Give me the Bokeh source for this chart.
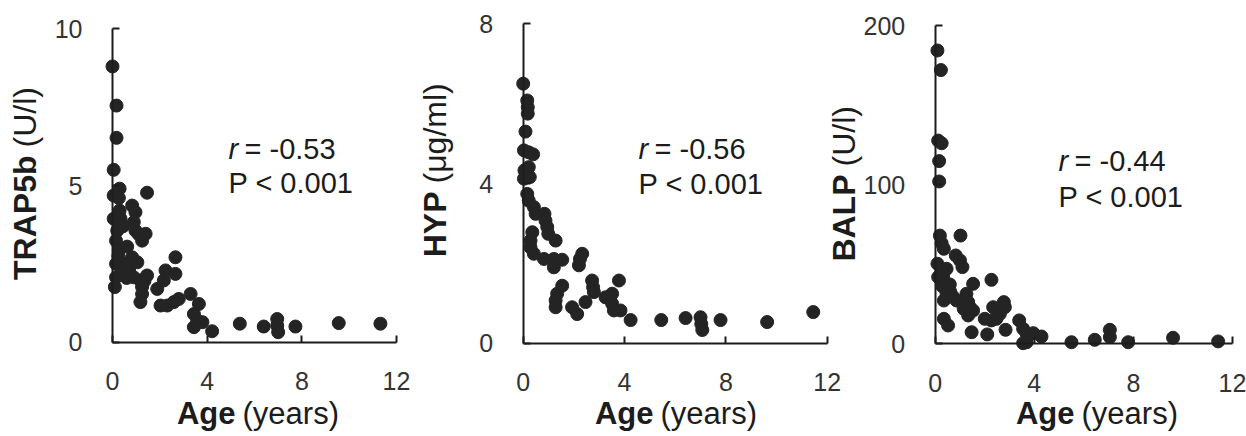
import math
from bokeh.plotting import figure
from bokeh.models import Range1d, FixedTicker, Label, LinearAxis
from bokeh.embed import file_html
from bokeh.resources import INLINE

# ---------------- data ----------------
x_ticks = [0, 4, 8, 12]

ages_trap = [0.0, 0.17, 0.17, 0.05, 0.05, 0.30, 0.27, 1.46, 0.83, 0.97,
             0.05, 0.34, 0.20, 0.90, 0.97, 1.40, 0.15, 1.25, 0.27, 0.83,
             2.66, 0.15, 0.55, 0.15, 0.48, 0.90, 1.18, 1.46, 2.24, 2.66,
             0.10, 1.25, 1.89, 2.17, 1.25, 1.18, 2.03, 2.31, 2.59, 2.80,
             3.30, 3.65, 3.44, 3.58, 3.44, 3.80, 4.21, 5.38, 6.39, 6.96,
             6.96, 7.00, 7.73, 9.56, 11.32, 0.62, 1.10, 0.40, 1.35, 0.70,
             0.30, 0.45, 0.25, 0.60, 1.05]
trap5b = [8.8, 7.55, 6.52, 5.5, 4.68, 4.9, 4.6, 4.77, 4.36, 4.15,
          3.94, 3.94, 3.56, 3.83, 3.56, 3.46, 3.24, 3.24, 2.93, 2.71,
          2.71, 2.5, 2.5, 2.07, 2.18, 2.07, 1.97, 2.13, 2.29, 2.18,
          1.76, 1.76, 1.70, 1.97, 1.54, 1.28, 1.17, 1.17, 1.28, 1.38,
          1.54, 1.22, 0.9, 0.69, 0.48, 0.64, 0.35, 0.59, 0.5, 0.74,
          0.53, 0.32, 0.5, 0.61, 0.59, 3.05, 3.45, 2.3, 1.95, 2.3,
          4.2, 3.7, 2.75, 2.05, 2.55]
trap_ticks = [0, 5, 10]

ages_hyp = [0.0, 0.16, 0.18, 0.18, 0.09, 0.03, 0.22, 0.39, 0.22, 0.05,
            0.03, 0.26, 0.16, 0.22, 0.42, 0.49, 0.84, 0.88, 0.95, 0.99,
            1.28, 0.36, 0.29, 0.29, 0.42, 0.82, 1.21, 1.54, 1.21, 2.24,
            2.33, 2.20, 2.72, 2.76, 2.79, 1.54, 1.34, 1.28, 1.28, 1.93,
            2.13, 2.46, 3.25, 3.51, 3.78, 3.51, 3.58, 3.84, 4.24, 5.45,
            6.41, 7.00, 7.03, 7.07, 7.79, 9.63, 11.45]
hyp = [6.5, 6.08, 5.91, 5.75, 5.3, 4.83, 4.78, 4.73, 4.41, 4.33,
       4.12, 4.16, 3.74, 3.57, 3.41, 3.24, 3.24, 3.07, 2.91, 2.74,
       2.57, 2.78, 2.57, 2.4, 2.24, 2.11, 2.11, 2.09, 1.9, 2.11,
       2.24, 1.95, 1.57, 1.4, 1.28, 1.44, 1.24, 1.07, 0.9, 0.9,
       0.73, 1.03, 1.15, 1.24, 1.57, 0.99, 0.82, 0.82, 0.58, 0.58,
       0.63, 0.65, 0.48, 0.33, 0.58, 0.53, 0.78]
hyp_ticks = [0, 4, 8]

ages_balp = [0.09, 0.23, 0.12, 0.26, 0.16, 0.16, 0.19, 0.26, 0.35, 1.02,
             0.83, 1.00, 1.10, 0.09, 0.46, 0.12, 0.32, 0.59, 1.53, 2.27,
             0.46, 0.35, 0.86, 1.26, 1.33, 1.40, 1.53, 1.33, 2.34, 2.77,
             2.81, 2.61, 2.00, 2.27, 2.47, 0.35, 0.52, 1.47, 2.10, 2.84,
             3.39, 3.55, 3.69, 3.96, 4.29, 3.55, 3.69, 5.50, 6.44, 7.05,
             7.05, 7.79, 9.60, 11.42, 0.60, 1.20, 0.30, 0.25, 0.70, 1.15]
balp = [184.3, 172.0, 127.7, 126.0, 114.8, 102.0, 68.0, 63.2, 59.7, 68.0,
        55.5, 52.4, 48.2, 50.3, 47.1, 41.9, 41.9, 37.3, 37.7, 40.2,
        31.4, 27.2, 27.2, 31.4, 26.2, 23.0, 20.9, 17.8, 23.0, 26.2,
        23.0, 18.8, 15.7, 14.7, 15.7, 15.7, 11.5, 7.3, 5.9, 8.8,
        14.7, 9.4, 6.3, 6.7, 4.6, 0.4, 1.0, 1.0, 2.5, 8.8,
        4.2, 1.0, 3.8, 1.5, 33.0, 28.0, 36.0, 45.0, 30.0, 22.0]
balp_ticks = [0, 100, 200]

r_values = ["-0.53", "-0.56", "-0.44"]
p_text = "P < 0.001"

# ---------------- layout / style ----------------
FONT = "Liberation Sans"
INK = "#1c1c1c"
TICK_COLOR = "#333333"
DOT = "#242424"
W, H = 1246, 436
OFF = 0  # the canvas starts at the page's top-left corner

panels = [
    dict(name="default", ages=ages_trap, vals=trap5b, ymax=10, yticks=trap_ticks,
         x0=112, x12=396, y0=341.7, ytop=28.3, ybold="TRAP5b", ynorm="(U/l)",
         ylab_x=24, ylab_split=151, xlab_split=238, r=r_values[0],
         ann_x=228, ann_y1=148, ann_y2=182),
    dict(name="p2", ages=ages_hyp, vals=hyp, ymax=8, yticks=hyp_ticks,
         x0=522.7, x12=826.7, y0=342.7, ytop=23.3, ybold="HYP", ynorm="(μg/ml)",
         ylab_x=434, ylab_split=187, xlab_split=656, r=r_values[1],
         ann_x=638, ann_y1=148, ann_y2=183),
    dict(name="p3", ages=ages_balp, vals=balp, ymax=200, yticks=balp_ticks,
         x0=934.7, x12=1232, y0=343.3, ytop=25, ybold="BALP", ynorm="(U/l)",
         ylab_x=843, ylab_split=170, xlab_split=1077, r=r_values[2],
         ann_x=1058, ann_y1=160, ann_y2=196),
]
XLAB_BASE = 413


def ranges(pn):
    ppx = (pn["x12"] - pn["x0"]) / 12.0
    ppy = (pn["y0"] - pn["ytop"]) / pn["ymax"]
    xr = Range1d((OFF - pn["x0"]) / ppx, (OFF + W - pn["x0"]) / ppx)
    yr = Range1d(-(OFF + H - pn["y0"]) / ppy, (pn["y0"] - OFF) / ppy)
    return xr, yr, ppx, ppy


info = [ranges(pn) for pn in panels]

p = figure(width=W, height=H, x_range=info[0][0], y_range=info[0][1],
           output_backend="svg", toolbar_location=None,
           x_axis_location=None, y_axis_location=None, min_border=0)
p.outline_line_color = None
p.background_fill_color = "white"
p.border_fill_color = "white"
p.grid.grid_line_color = None
p.extra_x_ranges = {pn["name"]: info[i][0] for i, pn in enumerate(panels) if i > 0}
p.extra_y_ranges = {pn["name"]: info[i][1] for i, pn in enumerate(panels) if i > 0}


def style_axis(ax, standoff):
    ax.axis_line_width = 2
    ax.axis_line_color = INK
    ax.major_tick_line_width = 2
    ax.major_tick_line_color = INK
    ax.major_tick_in = 7
    ax.major_tick_out = 0
    ax.minor_tick_line_color = None
    ax.major_label_text_font = FONT
    ax.major_label_text_font_size = "25px"
    ax.major_label_text_color = TICK_COLOR
    ax.major_label_standoff = standoff


for i, pn in enumerate(panels):
    name = pn["name"]
    xr, yr, ppx, ppy = info[i]

    def dx(px, x0=pn["x0"], ppx=ppx):
        return (px - x0) / ppx

    def dy(py, y0=pn["y0"], ppy=ppy):
        return (y0 - py) / ppy

    p.scatter(x=pn["ages"], y=pn["vals"], size=13, fill_color=DOT, line_color=DOT,
              x_range_name=name, y_range_name=name)

    xa = LinearAxis(x_range_name=name, y_range_name=name, fixed_location=0,
                    bounds=(0, 12), ticker=FixedTicker(ticks=x_ticks))
    style_axis(xa, 30)
    p.add_layout(xa, "below")

    ya = LinearAxis(x_range_name=name, y_range_name=name, fixed_location=0,
                    bounds=(0, pn["ymax"]), ticker=FixedTicker(ticks=pn["yticks"]))
    style_axis(ya, 30)
    p.add_layout(ya, "left")

    common = dict(x_range_name=name, y_range_name=name, text_font=FONT, text_color=INK)

    # x axis title: bold "Age" + normal "(years)"
    p.add_layout(Label(x=dx(pn["xlab_split"] - 3), y=dy(XLAB_BASE), text="Age",
                       text_font_size="31px", text_font_style="bold",
                       text_align="right", text_baseline="alphabetic", **common))
    p.add_layout(Label(x=dx(pn["xlab_split"] + 4), y=dy(XLAB_BASE), text="(years)",
                       text_font_size="31px", text_font_style="normal",
                       text_align="left", text_baseline="alphabetic", **common))

    # y axis title (rotated)
    p.add_layout(Label(x=dx(pn["ylab_x"]), y=dy(pn["ylab_split"] + 4), text=pn["ybold"],
                       angle=math.pi / 2, text_font_size="32px", text_font_style="bold",
                       text_align="right", text_baseline="middle", **common))
    p.add_layout(Label(x=dx(pn["ylab_x"]), y=dy(pn["ylab_split"] - 4), text=pn["ynorm"],
                       angle=math.pi / 2, text_font_size="32px", text_font_style="normal",
                       text_align="left", text_baseline="middle", **common))

    # statistics annotation
    p.add_layout(Label(x=dx(pn["ann_x"]), y=dy(pn["ann_y1"]), text="r",
                       text_font_size="29px", text_font_style="italic",
                       text_align="left", text_baseline="alphabetic", **common))
    p.add_layout(Label(x=dx(pn["ann_x"]), y=dy(pn["ann_y1"]), x_offset=16,
                       text="= " + pn["r"], text_font_size="29px",
                       text_align="left", text_baseline="alphabetic", **common))
    p.add_layout(Label(x=dx(pn["ann_x"]), y=dy(pn["ann_y2"]), text=p_text,
                       text_font_size="29px", text_align="left",
                       text_baseline="alphabetic", **common))

open("out.html", "w").write(file_html(p, INLINE))
